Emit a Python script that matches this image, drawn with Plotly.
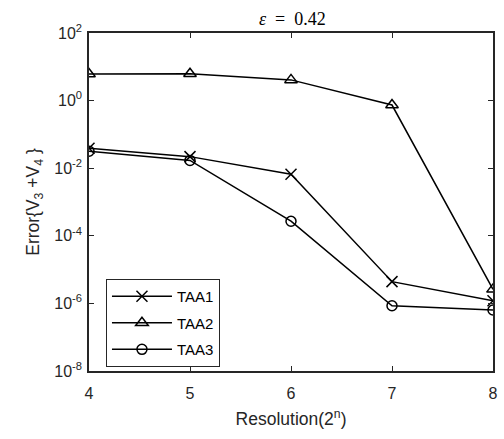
import plotly.graph_objects as go

# Resolution exponents n (grid = 2^n)
resolution = [4, 5, 6, 7, 8]

# Error of V3 + V4 for each scheme
taa1 = [0.039, 0.022, 0.0066, 4.4e-6, 1.2e-6]
taa2 = [6.1, 6.2, 4.1, 0.74, 2.6e-6]
taa3 = [0.032, 0.017, 2.7e-4, 8.5e-7, 6.4e-7]

series = [("TAA1", taa1, "x-thin-open", 11),
          ("TAA2", taa2, "triangle-up-open", 11),
          ("TAA3", taa3, "circle-open", 10)]

ytick_exp = [2, 0, -2, -4, -6, -8]
ytick_vals = [10.0 ** e for e in ytick_exp]
ytick_text = [f"10<sup>{e}</sup>" for e in ytick_exp]

SANS = "Liberation Sans, Arial"
SERIF = "Liberation Serif, Times New Roman, serif"
INK = "#262626"

fig = go.Figure()
for name, vals, sym, size in series:
    fig.add_trace(go.Scatter(
        x=resolution, y=vals, name=name, mode="lines+markers",
        legendgroup=name,
        line=dict(color="black", width=1.5),
        marker=dict(symbol=sym, size=size, color="black",
                    line=dict(color="black", width=1.5)),
    ))

axis_common = dict(
    showline=True, linecolor=INK, linewidth=1.5, mirror="ticks",
    ticks="inside", ticklen=5, tickwidth=1, tickcolor=INK,
    showgrid=False, zeroline=False,
    tickfont=dict(family=SANS, size=16, color=INK),
)

fig.update_layout(
    width=504, height=439,
    margin=dict(l=89, r=6, t=33, b=68),
    paper_bgcolor="white", plot_bgcolor="white",
    title=dict(text="<i>ε</i>\u2002=\u20020.42", x=0.58, xanchor="center",
               y=0.958, yanchor="middle",
               font=dict(family=SERIF, size=18, color="black")),
    xaxis=dict(range=[4, 8], tickvals=resolution, ticktext=[str(v) for v in resolution],
               ticklabelstandoff=7,
               title=dict(text="Resolution(2<sup>n</sup>)", standoff=12,
                          font=dict(family=SANS, size=17.5, color=INK)),
               **axis_common),
    yaxis=dict(type="log", range=[-8, 2], tickvals=ytick_vals, ticktext=ytick_text,
               ticklabelstandoff=2,
               title=dict(text="Error{V<sub>3</sub> +V<sub>4</sub> }", standoff=10,
                          font=dict(family=SANS, size=17.5, color=INK)),
               **axis_common),
    legend=dict(x=0.042, y=0.272, xanchor="left", yanchor="top",
                bgcolor="white", bordercolor=INK, borderwidth=1,
                font=dict(family=SANS, size=15, color="black"),
                tracegroupgap=4, itemwidth=60),
    showlegend=True,
)

fig.write_html("out.html")
